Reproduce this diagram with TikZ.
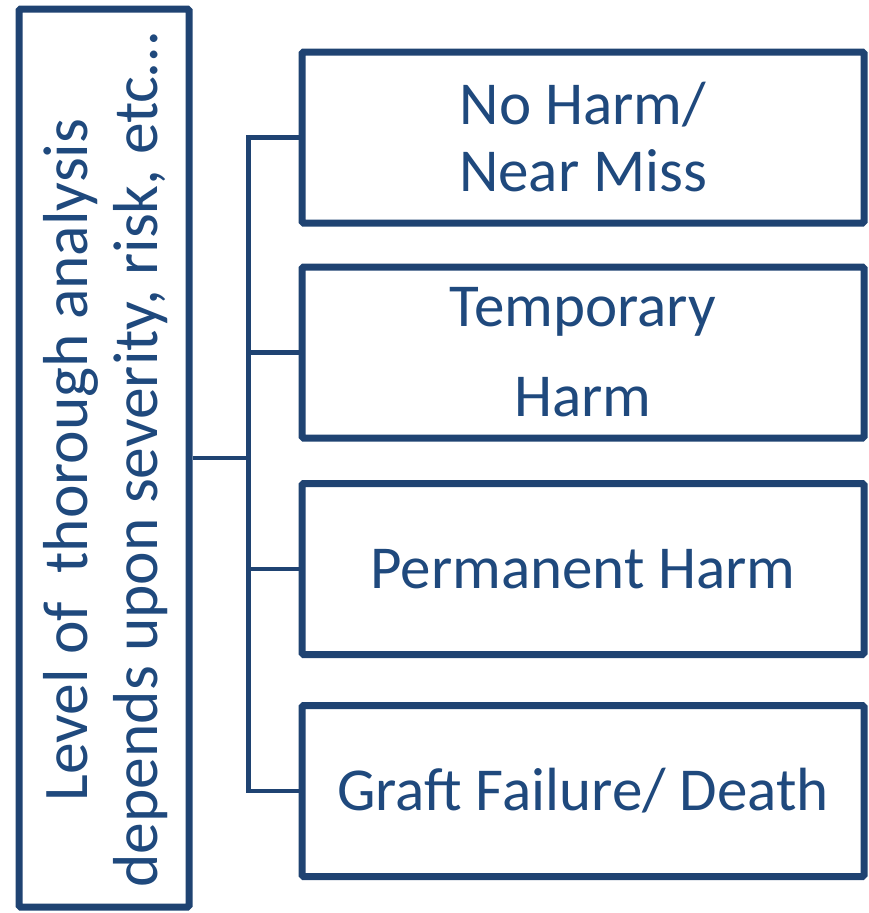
\documentclass[tikz,border=0pt]{standalone}
\usepackage{fontspec}
\setmainfont{Carlito}
\usetikzlibrary{shadows}
\definecolor{boxblue}{HTML}{1F4372}
\definecolor{txtblue}{HTML}{1F497D}
\begin{document}
\begin{tikzpicture}[x=1pt,y=1pt,
	box/.style={draw=boxblue,line width=7pt,fill=white,rounded corners=1.5pt,
		minimum width=562pt,minimum height=171pt,align=center,text=txtblue,
		font=\fontsize{61}{67}\selectfont,
		drop shadow={shadow xshift=1.5pt,shadow yshift=-2.5pt,opacity=0.3}},
	link/.style={draw=boxblue,line width=4.5pt}]
	\useasboundingbox (0,0) rectangle (869,-913);
	% left box with the turned text
	\node[box,minimum width=170pt,minimum height=898pt] (lvl) at (104,-458) {};
	\node[rotate=90,align=center,text=txtblue,font=\fontsize{63.5}{70}\selectfont] (lvltext) at (106,-460)
		{Level of \ thorough analysis\\depends upon severity, risk, etc…};
	% the four outcomes
	\node[box] (b1) at (583,-137.5) {No Harm/\\Near Miss};
	\node[box,font=\fontsize{61}{90}\selectfont] (b2) at (583,-352.5) {Temporary\\Harm};
	\node[box] (b3) at (583,-569) {Permanent Harm};
	\node[box] (b4) at (583,-791) {Graft Failure/ Death};
	% connectors
	\draw[link] (lvl.east) -- ++(56,0) coordinate (jn);
	\draw[link] (b1.west) -| (jn |- b4.west) -- (b4.west);
	\draw[link] (jn |- b2.west) -- (b2.west);
	\draw[link] (jn |- b3.west) -- (b3.west);
\end{tikzpicture}
\end{document}
